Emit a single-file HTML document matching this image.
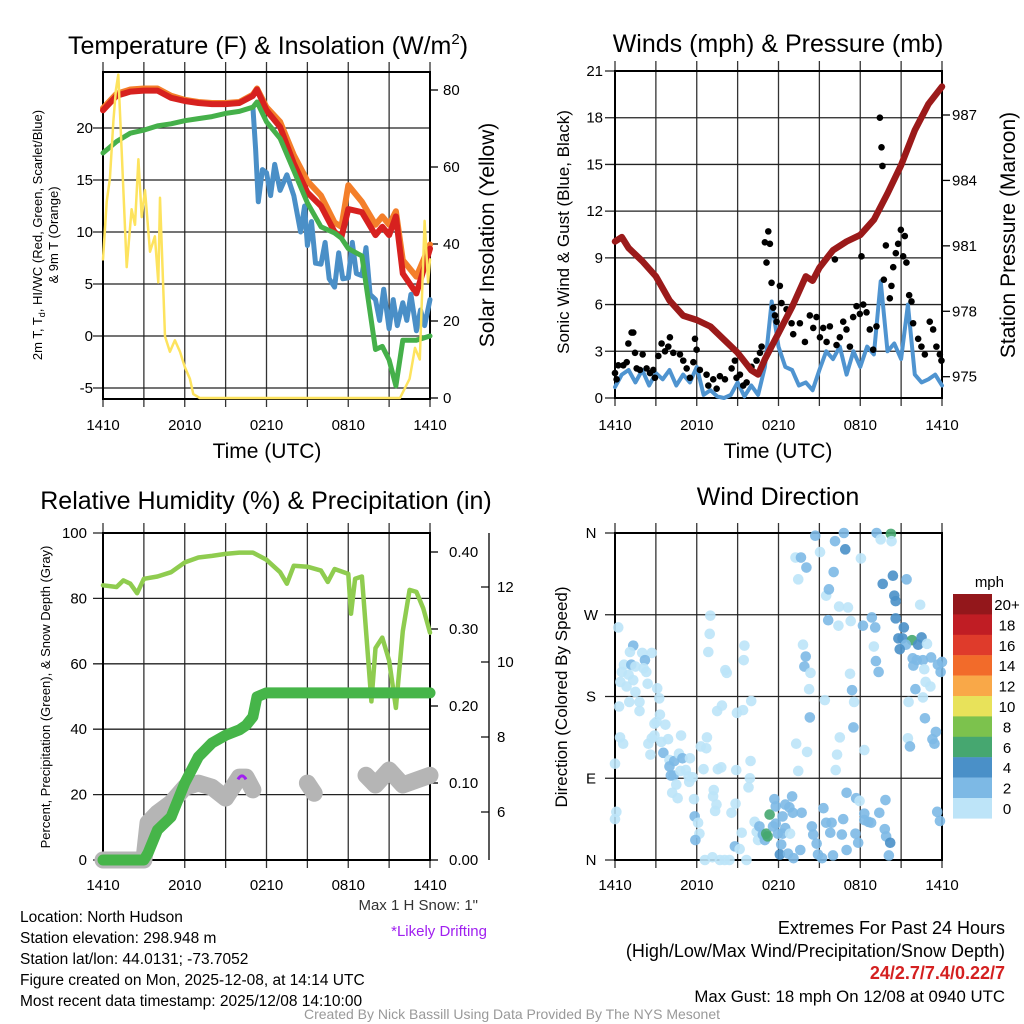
<!DOCTYPE html>
<html><head><meta charset="utf-8"><style>
html,body{margin:0;padding:0;background:#fff}
svg{display:block;font-family:"Liberation Sans",Arial,sans-serif}
</style></head><body>
<svg id="root" width="1024" height="1024" viewBox="0 0 1024 1024" xmlns="http://www.w3.org/2000/svg">
<g id="g1"></g>
<g id="g2"></g>
<g id="g3"></g>
<g id="g4"></g>
<g id="txt">
<text x="268" y="54" font-size="25" text-anchor="middle">Temperature (F) &amp; Insolation (W/m<tspan font-size="15" dy="-10">2</tspan><tspan dy="10">)</tspan></text>
<text x="778" y="52" font-size="25" text-anchor="middle">Winds (mph) &amp; Pressure (mb)</text>
<text x="266" y="509" font-size="25" text-anchor="middle">Relative Humidity (%) &amp; Precipitation (in)</text>
<text x="778" y="505" font-size="25" text-anchor="middle">Wind Direction</text>
<text x="267" y="458" font-size="21" text-anchor="middle">Time (UTC)</text>
<text x="778" y="458" font-size="21" text-anchor="middle">Time (UTC)</text>
<text transform="translate(42,235) rotate(-90)" font-size="13" text-anchor="middle">2m T, T<tspan font-size="9" dy="3">d</tspan><tspan dy="-3">, HI/WC (Red, Green, Scarlet/Blue)</tspan></text>
<text transform="translate(58,235) rotate(-90)" font-size="13" text-anchor="middle">&amp; 9m T (Orange)</text>
<text transform="translate(494,235) rotate(-90)" font-size="21" text-anchor="middle">Solar Insolation (Yellow)</text>
<text transform="translate(569,232) rotate(-90)" font-size="17" text-anchor="middle">Sonic Wind &amp; Gust (Blue, Black)</text>
<text transform="translate(1015,235) rotate(-90)" font-size="21" text-anchor="middle">Station Pressure (Maroon)</text>
<text transform="translate(50,697) rotate(-90)" font-size="13" text-anchor="middle">Percent, Precipitation (Green), &amp; Snow Depth (Gray)</text>
<text transform="translate(567,697) rotate(-90)" font-size="17" text-anchor="middle">Direction (Colored By Speed)</text>
<text x="1004" y="587" font-size="15" text-anchor="end">mph</text>
<text x="478" y="910" font-size="15" text-anchor="end" fill="#333">Max 1 H Snow: 1"</text>
<text x="487" y="936" font-size="15" text-anchor="end" fill="#a020f0">*Likely Drifting</text>
<g font-size="15.5">
<text x="20" y="922">Location: North Hudson</text>
<text x="20" y="943">Station elevation: 298.948 m</text>
<text x="20" y="964">Station lat/lon: 44.0131; -73.7052</text>
<text x="20" y="985">Figure created on Mon, 2025-12-08, at 14:14 UTC</text>
<text x="20" y="1006">Most recent data timestamp: 2025/12/08 14:10:00</text>
</g>
<g font-size="18" text-anchor="end">
<text x="1005" y="934">Extremes For Past 24 Hours</text>
<text x="1005" y="957">(High/Low/Max Wind/Precipitation/Snow Depth)</text>
<text x="1005" y="979" fill="#d42020" font-weight="bold">24/2.7/7.4/0.22/7</text>
<text x="1005" y="1002" font-size="16.8">Max Gust: 18 mph On 12/08 at 0940 UTC</text>
</g>
<text x="512" y="1019" font-size="14" fill="#999" text-anchor="middle">Created By Nick Bassill Using Data Provided By The NYS Mesonet</text>
</g>
</svg>
<script>
// ---------- Panel 1 data ----------
const tHours=[0,1,2,3,4,5,6,7,8,9,10,11,11.3,12,13,14,15,16,17,17.5,18,19,20,20.5,21,21.5,22,23,24];
const tempRed=[21.7,23.1,23.5,23.6,23.6,22.9,22.6,22.4,22.3,22.3,22.4,23.1,23.7,21.7,20.1,16.6,13.8,12.5,10,9.5,12.2,11.9,9.7,10.5,9.7,11.5,6,4.1,8.4];
const tempOrange=[21.9,23.3,23.7,23.8,23.8,23.1,22.7,22.5,22.4,22.4,22.5,23.2,23.8,22.0,20.6,17.4,14.9,13.5,10.9,10.5,14.5,12.9,10.7,11.5,10.7,12.0,7.3,5.7,8.8];
const heatIndex=[17.6,18.7,19.5,19.8,20.2,20.4,20.7,20.9,21.1,21.4,21.6,22,22.5,20.6,19,15.9,12.8,10.5,9.9,9.4,8.4,7.7,-1.3,-1,-2.3,-4.8,-0.4,-0.4,0];
const dewHours=[11,11.2,11.4,11.7,12,12.3,12.6,13,13.5,14,14.5,14.8,15,15.3,15.6,16,16.3,16.6,17,17.3,17.6,18,18.3,18.6,19,19.3,19.6,20,20.3,20.6,21,21.3,21.6,22,22.3,22.6,23,23.3,23.6,24];
const dewPoint=[22,18,12.9,16,15.7,13.5,16.5,14,15.5,13.5,10,12.5,8.7,11,7,6.9,9,5.5,4.7,8,5.5,5.6,9,6,5.8,8.5,4,3.5,1.5,4.5,0.7,3.5,1,3.2,1.5,4,0.5,2.5,1,3.5];
const solHours=[0,.27,.51,.76,.95,1.12,1.37,1.74,2.1,2.35,2.6,2.84,3.08,3.45,3.81,4.06,4.18,4.55,4.91,5.28,5.65,6.01,6.38,6.63,7.1,21.8,22.5,22.9,23.25,23.6,23.86,24];
const solar=[36,51,57,72,80,84,64,34,49,45,62,47,54,38,42,30,52,16,12,15,12,8,5,1,0,0,5,13,10,46,30,36];
const tempTicks=[-5,0,5,10,15,20];
const solarTicks=[0,20,40,60,80];
const timeLabels=["1410","2010","0210","0810","1410"];
// ---------- Panel 2 data ----------
const windHours=[0,.5,1,1.5,2,2.5,3,3.5,4,4.5,5,5.5,6,6.5,7,7.5,8,8.5,9,9.5,10,10.5,11,11.5,12,12.5,13,13.5,14,14.5,15,15.5,16,16.5,17,17.5,18,18.5,19,19.5,20,20.5,21,21.5,22,22.5,23,23.5,24];
const windSpeed=[0.7,1.5,1.8,1.0,1.8,0.8,1.6,1.2,1.8,0.8,1.5,1.0,2.0,0.2,0.5,0.1,0,0.2,1.0,0.1,0.8,0.2,2.0,6.2,3.3,2.0,1.8,0.8,1.0,0.5,1.8,3.0,2.5,3.3,1.5,3.0,2.0,3.3,2.8,7.5,3.0,3.5,2.5,6.0,1.5,1.0,1.2,1.5,0.8];
const gustHours=[0,.12,.24,.61,.98,1.22,1.34,1.47,.86,1.59,1.83,2.03,2.32,2.57,2.81,2.93,3.18,3.42,3.67,3.91,4.03,4.28,4.77,5.01,5.26,5.5,5.87,5.99,5.75,6.23,6.72,6.85,7.21,7.46,7.7,8.07,8.56,8.8,8.92,9.17,9.41,9.66,10.02,10.39,10.64,10.76,11.0,11.25,11.37,11.12,11.49,11.61,11.74,11.86,12.1,12.22,12.59,12.96,13.08,13.57,13.94,14.3,14.55,14.79,15.04,15.28,15.53,15.77,16.14,16.26,16.5,16.75,16.99,17.24,17.48,17.73,17.97,18.09,18.22,18.46,18.7,18.95,19.19,19.44,19.56,19.63,19.73,19.88,20.17,20.29,20.42,20.61,20.78,20.98,21.15,21.27,21.39,21.59,21.76,21.88,22.25,22.49,22.74,23.1,23.35,23.59,23.84,23.96];
const gustSpeed=[1.6,1.2,2.1,2.1,3.5,4.2,4.2,2.9,2.3,1.9,1.8,2.8,1.9,1.6,1.8,1.3,2.7,3.5,3.0,3.3,3.9,2.9,2.8,2.4,1.9,1.3,3.8,3.1,2.3,1.8,1.5,0.8,1.2,0.6,1.4,1.2,1.9,2.4,1.3,1.5,0.8,1.0,2.0,2.4,2.9,3.3,10.0,10.7,9.9,8.7,7.4,5.8,5.3,4.9,7.2,6.1,5.7,4.8,4.1,4.8,3.6,5.3,4.5,5.2,3.9,4.5,3.6,4.6,8.9,3.4,3.9,4.9,4.4,3.3,5.2,5.9,5.4,9.1,6.0,5.5,4.4,3.1,4.6,18.0,16.1,14.9,7.6,9.8,6.4,7.2,8.4,9.3,9.9,10.8,9.1,10.4,8.7,6.6,6.2,4.8,3.8,3.3,2.8,4.9,4.4,3.3,2.8,2.4];
const presHours=[0,.5,1,2,3,4,5,6,7,8,9,10,10.5,11,12,13,14,14.5,15,16,17,18,19,20,21,22,23,24];
const pressure=[981.2,981.4,980.9,980.3,979.6,978.5,977.8,977.6,977.3,976.7,976.1,975.3,975.1,975.8,977,978.2,979.6,979.4,980,980.8,981.2,981.5,982.2,983.4,984.7,986.3,987.5,988.3];
const windTicks=[0,3,6,9,12,15,18,21];
const presTicks=[975,978,981,984,987];
// ---------- Panel 3 data ----------
const rhHours=[0,1,1.5,2,2.5,3,4,5,6,7,8,9,10,11,12,13,13.5,14,15,16,16.5,17,18,18.2,18.5,19,19.7,20,20.5,21,21.5,22,22.5,23,23.5,24];
const rh=[84,83.5,85.5,84.5,81.6,86,86.7,88,91,92.5,93,93.6,94,94,91.8,88,84.5,90,89.7,88.5,85,89,87.5,75.3,86,86.7,48.5,64.8,68,61,46.5,70,82.6,82,77,69.5];
const pcpHours=[0,3,3.3,4,5,6,7,8,9,10,10.5,11,11.3,12,24];
const precip=[0,0,0.009,0.039,0.056,0.10,0.134,0.152,0.162,0.169,0.175,0.186,0.212,0.217,0.217];
const snowHoursA=[0,3,3.3,4,5,6,7,8,9,10,10.5,11];
const snowA=[4.72,4.72,5.71,5.97,6.24,6.66,6.77,6.66,6.37,6.93,6.93,6.59];
const snowHoursB=[15,15.5];
const snowB=[6.77,6.5];
const snowHoursC=[19.3,20,21,22,23,24];
const snowC=[6.98,6.72,7.12,6.72,6.85,6.98];
const rhTicks=[0,20,40,60,80,100];
const pcpTicks=[0,0.1,0.2,0.3,0.4];
const snowTicks=[6,8,10,12];
// ---------- Panel 4 data ----------
const dirHours=[.24,1.34,1.1,2.0,2.7,2.2,.66,1.2,1.5,.5,1.0,2.1,2.3,1.34,.4,.85,1.5,2.4,3.1,1.05,1.8,1.8,.3,3.25,3.3,2.9,3.05,3.7,.37,.6,2.7,2.9,3.4,3.9,2.45,2.6,3.55,4.85,4.0,4.35,4.7,4.0,4.95,5.5,4.1,4.3,4.8,5.2,5.4,5.7,5.45,4.5,4.2,4.6,5.8,0,.1,0,5.85,6.1,6.2,5.9,6.3,6.7,6.75,6.5,7.55,7.8,7.25,7.2,7.45,7.35,8.55,8.85,9.3,9.9,9.8,9.95,8.9,8.8,9.15,6.6,7.15,7.7,8.05,8.4,9.65,7.0,6.95,6.85,9.5,9.45,8.1,8.2,7.5,7.85,8.95,9.4,10.0,10.25,10.4,10.6,10.5,10.85,11.0,11.2,11.1,11.35,11.6,11.8,11.7,11.8,11.95,12.3,12.5,12.85,12.2,12.1,12.5,13.0,12.8,13.05,12.3,13.7,13.1,13.6,12.7,14.8,14.9,15.2,15.3,14.45,14.55,15.5,15.9,15.8,16.65,16.75,17.0,17.0,17.7,17.95,17.65,17.85,16.0,18.3,18.6,18.3,19.4,19.8,19.9,20.2,20.1,18.8,19.85,23.65,23.85,13.3,14.1,13.45,16.2,16.3,18.3,16.5,17.5,17.55,17.4,15.4,17.25,14.3,14.25,13.8,14.0,13.9,14.35,19.35,19.15,19.0,19.1,18.2,18.85,17.3,16.4,15.65,16.45,17.1,15.5,15.7,16.05,14.05,13.45,13.25,13.65,15.05,14.7,16.8,16.15,16.9,18.05,19.2,19.5,20.25,20.3,19.65,20.4,21.4,20.5,20.6,20.6,21.2,20.8,21.1,21.8,22.5,21.35,20.9,22.25,22.9,21.85,22.15,21.9,22.6,23.2,23.7,24.0,23.9,22.7,22.8,23.15,22.05,22.6,21.55,22.75,23.55,23.3,23.45,21.5,21.65,22.4];
const dirDeg=[256,236,229,228,228,220,215,215,213,207,204,211,207,198,196,191,185,194,189,174,174,164,169,178,160,150,152,149,135,128,134,137,130,133,128,116,118,137,110,109,117,103,112,112,93,93,98,99,92,91,86,83,74,68,67,106,53,45,48,41,29,22,125,123,135,100,100,102,77,70,61,54,52,62,30,90,80,109,99,15,12,0,3,0,0,0,0,269,249,229,236,220,209,206,164,170,162,165,175,42,31,37,22,28,22,26,29,50,37,40,67,59,29,29,35,29,17,6,61,70,58,52,48,52,2,11,7,18,6,2,57,37,28,41,41,30,28,45,74,11,68,65,29,19,5,51,42,44,52,34,26,19,5,41,66,53,43,128,119,98,99,116,121,135,146,174,187,176,205,157,188,237,224,213,206,207,219,235,256,258,267,263,258,264,279,278,291,298,317,322,309,333,333,339,357,360,351,342,332,360,353,359,351,304,313,309,291,285,266,256,244,244,242,245,237,232,237,238,222,220,214,220,223,215,218,207,210,196,191,188,179,174,156,141,133,128,134,125,281];
const dirSpeed=[1,3,1,1,1,3,1,3,1,1,1,1,1,1,1,1,1,1,1,1,1,1,1,1,1,1,1,1,1,1,1,1,1,1,1,1,3,1,1,3,1,3,3,1,3,3,1,1,1,1,1,1,1,1,1,1,1,1,3,1,1,3,1,1,1,1,1,1,1,1,1,1,1,1,1,1,1,1,1,3,1,1,1,1,1,1,1,1,1,1,1,1,1,1,1,1,1,1,1,1,1,3,1,3,3,7,7,7,3,3,3,3,3,3,3,1,3,5,3,3,3,3,3,3,3,3,3,3,3,3,3,3,3,3,3,3,3,3,3,3,3,1,3,3,3,3,3,3,3,3,3,5,3,3,3,3,3,1,1,1,1,1,1,1,3,1,3,1,1,3,1,1,3,3,1,3,3,1,3,3,3,1,1,3,1,1,1,3,3,3,1,1,3,1,3,3,3,5,1,3,1,7,1,5,5,3,5,5,5,5,5,5,7,5,3,5,5,1,3,3,3,3,3,3,3,3,1,1,1,3,1,1,3,3,3,3,1,3,1,3,3];
const dirLabels=["N","E","S","W","N"];
const cbLabels=["20+","18","16","14","12","10","8","6","4","2","0"];
const cbColors=["#93171b","#c01d24","#df3b2b","#f26b2a","#f9a848","#e8e25a","#7cc24d","#46a770","#4a90c8","#7db9e5","#bde4f8"];

// ---------- helpers ----------
const NS="http://www.w3.org/2000/svg";
function el(parent,tag,attrs){const e=document.createElementNS(NS,tag);for(const k in attrs)e.setAttribute(k,attrs[k]);parent.appendChild(e);return e;}
function linScale(d0,d1,r0,r1){return v=>r0+(v-d0)*(r1-r0)/(d1-d0);}
function pathD(xs,ys,sx,sy){return xs.map((h,i)=>(i?'L':'M')+sx(h).toFixed(1)+','+sy(ys[i]).toFixed(1)).join('');}
function frameAndGrid(g,x0,x1,y0,y1,sy,ticks){
  const sx=linScale(0,24,x0,x1);
  for(let h=0;h<=24;h+=3){
    const v=el(g,'line',{x1:sx(h),x2:sx(h),y1:y0-10,y2:y1+8,stroke:'#333','stroke-width':1.3});
    
    
  }
  ticks.forEach(t=>{
    const l=el(g,'line',{x1:x0-10,x2:x1,y1:sy(t),y2:sy(t),stroke:'#222','stroke-width':1.3});
    
    
  });
  const r=el(g,'rect',{x:x0,y:y0,width:x1-x0,height:y1-y0,fill:'none',stroke:'#000','stroke-width':2});
  
  
  return sx;
}
function xLabels(g,sx,y){
  timeLabels.forEach((t,i)=>{
    const tx=el(g,'text',{x:sx(i*6),y:y,'font-size':15,'text-anchor':'middle'});tx.textContent=t;
    
    
  });
}
function line(g,xs,ys,sx,sy,color,w,name){
  const p=el(g,'path',{d:pathD(xs,ys,sx,sy),fill:'none',stroke:color,'stroke-width':w,'stroke-linejoin':'round','stroke-linecap':'round'});
  
  
  return p;
}
function yLabels(g,ticks,sy,x,anchor,fmt,name){
  ticks.forEach(t=>{
    const tx=el(g,'text',{x:x,y:sy(t)+5,'font-size':15,'text-anchor':anchor});tx.textContent=fmt(t);
    
    
  });
}
function rightTicks(g,ticks,sy,x){
  ticks.forEach(t=>{const l=el(g,'line',{x1:x,x2:x+8,y1:sy(t),y2:sy(t),stroke:'#000','stroke-width':1.3});
    
    });
}

// ---------- Panel 1 ----------
(function(){
  const g=document.getElementById('g1');
  const x0=103,x1=430,y0=72,y1=399;
  const sy=linScale(0,-5,336,388);
  const sy2=linScale(0,80,398,90);
  const sx=frameAndGrid(g,x0,x1,y0,y1,sy,tempTicks);
  rightTicks(g,solarTicks,sy2,x1);
  yLabels(g,tempTicks,sy,93,'end',t=>String(t),'temperature-tick-label');
  yLabels(g,solarTicks,sy2,443,'start',t=>String(t),'insolation-tick-label');
  xLabels(g,sx,430);
  line(g,tHours,tempOrange,sx,sy,'#f47f2a',6,'9m-temperature-line');
  line(g,tHours,tempRed,sx,sy,'#d7211f',6,'2m-temperature-line');
  line(g,dewHours,dewPoint,sx,sy,'#4a8fc7',5,'dewpoint-line');
  line(g,tHours,heatIndex,sx,sy,'#45b04a',5,'heat-index-line');
  line(g,solHours,solar,sx,sy2,'#fde35e',2.5,'insolation-line');
})();

// ---------- Panel 2 ----------
(function(){
  const g=document.getElementById('g2');
  const x0=615,x1=942,y0=71,y1=398;
  const sy=linScale(0,21,398,71);
  const sy2=linScale(975,987,376.7,115);
  const sx=frameAndGrid(g,x0,x1,y0,y1,sy,windTicks);
  rightTicks(g,presTicks,sy2,x1);
  yLabels(g,windTicks,sy,603,'end',t=>String(t),'wind-tick-label');
  yLabels(g,presTicks,sy2,952,'start',t=>String(t),'pressure-tick-label');
  xLabels(g,sx,430);
  line(g,windHours,windSpeed,sx,sy,'#4f94d0',4,'sonic-wind-line');
  gustHours.forEach((h,i)=>{
    const c=el(g,'circle',{cx:sx(h),cy:sy(gustSpeed[i]),r:3.3,fill:'#000'});
    
    
  });
  line(g,presHours,pressure,sx,sy2,'#9b1a1a',6.5,'pressure-line');
})();

// ---------- Panel 3 ----------
(function(){
  const g=document.getElementById('g3');
  const x0=103,x1=430,y0=533,y1=860;
  const sy=linScale(0,100,860,533);
  const sp=linScale(0,0.4,860,552);
  const ss=linScale(6,12,812,587);
  const sx=frameAndGrid(g,x0,x1,y0,y1,sy,rhTicks);
  yLabels(g,rhTicks,sy,87,'end',t=>String(t),'percent-tick-label');
  rightTicks(g,pcpTicks,sp,x1);
  yLabels(g,pcpTicks,sp,449,'start',t=>t.toFixed(2),'precip-tick-label');
  const ax=el(g,'line',{x1:489,x2:489,y1:533,y2:860,stroke:'#000','stroke-width':1.3});
  
  
  snowTicks.forEach(t=>{const l=el(g,'line',{x1:489,x2:481,y1:ss(t),y2:ss(t),stroke:'#000','stroke-width':1.2});
    
    });
  yLabels(g,snowTicks,ss,497,'start',t=>String(t),'snow-tick-label');
  xLabels(g,sx,890);
  line(g,snowHoursA,snowA,sx,ss,'#b5b5b5',17,'snow-depth-line');
  line(g,snowHoursB,snowB,sx,ss,'#b5b5b5',17,'snow-depth-line');
  line(g,snowHoursC,snowC,sx,ss,'#b5b5b5',17,'snow-depth-line');
  const m=el(g,'path',{d:'M'+(sx(10.2)-4)+','+(ss(6.95)+3)+' q4,-7 8,0',fill:'none',stroke:'#a020f0','stroke-width':3});
  
  
  line(g,rhHours,rh,sx,sy,'#8fcc4f',4.5,'humidity-line');
  line(g,pcpHours,precip,sx,sp,'#46b549',11,'precipitation-line');
})();

// ---------- Panel 4 ----------
(function(){
  const g=document.getElementById('g4');
  const x0=615,x1=942,y0=533,y1=860;
  const sy=linScale(0,360,860,533);
  const sx=frameAndGrid(g,x0,x1,y0,y1,sy,[0,90,180,270,360]);
  dirLabels.forEach((t,i)=>{
    const tx=el(g,'text',{x:591,y:sy(i*90)+5,'font-size':15,'text-anchor':'middle'});tx.textContent=t;
    
    
  });
  xLabels(g,sx,890);
  dirHours.forEach((h,i)=>{
    const bin=Math.min(10,Math.floor(dirSpeed[i]/2));
    const c=el(g,'circle',{cx:sx(h),cy:sy(dirDeg[i]),r:5.3,fill:cbColors[10-bin],'fill-opacity':0.9});
    
    
  });
  cbLabels.forEach((t,i)=>{
    const r=el(g,'rect',{x:953,y:594+i*20.4,width:39,height:20.6,fill:cbColors[i]});
    
    
    const tx=el(g,'text',{x:1007,y:594+i*20.4+16,'font-size':15,'text-anchor':'middle'});tx.textContent=t;
    
    
  });
})();
</script>
</body></html>
